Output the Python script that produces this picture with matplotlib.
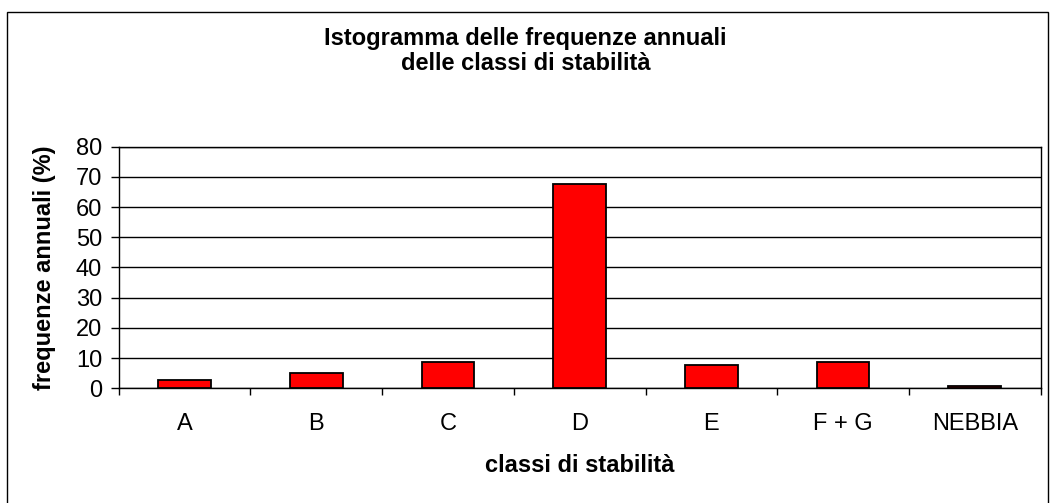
import matplotlib
matplotlib.use("Agg")
import matplotlib.pyplot as plt
from matplotlib.patches import Rectangle
import numpy as np

plt.rcParams['font.family'] = ['Liberation Sans', 'DejaVu Sans']

categories = ["A", "B", "C", "D", "E", "F + G", "NEBBIA"]
values = [2.6, 5.0, 8.8, 67.7, 7.6, 8.8, 0.7]
yticks = [0, 10, 20, 30, 40, 50, 60, 70, 80]

W, H = 1051, 503
FS = 17
fig = plt.figure(figsize=(W / 100, H / 100), dpi=100)

# outer chart frame
fig.patches.append(Rectangle((7 / W, -0.02), (1048 - 7) / W, 1.02 - 12 / H,
                             transform=fig.transFigure, fill=False,
                             edgecolor='black', linewidth=1.0))

ax = fig.add_axes([118.7 / W, 1 - 388.3 / H, (1040.7 - 118.7) / W, (388.3 - 146.7) / H])
x = np.arange(len(categories))
ax.bar(x, values, width=0.4, color='#FF0000', edgecolor='black', linewidth=1.3, zorder=3)

ax.set_xlim(-0.5, len(categories) - 0.5)
ax.set_ylim(0, 80)
ax.set_yticks(yticks)
ax.set_yticklabels([str(v) for v in yticks], fontsize=FS)
ax.yaxis.grid(True, color='black', linewidth=1.0, zorder=0)

ax.set_xticks(x)
ax.set_xticklabels(categories, fontsize=FS)
ax.tick_params(axis='x', which='major', length=0, pad=18)
ax.set_xticks(np.arange(len(categories) + 1) - 0.5, minor=True)
ax.tick_params(axis='x', which='minor', length=5, width=1.0, direction='out')
ax.tick_params(axis='y', which='major', length=6, width=1.0, direction='out', pad=6)

for s in ax.spines.values():
    s.set_linewidth(1.0)
    s.set_color('black')

ax.set_ylabel("frequenze annuali (%)", fontsize=FS, fontweight='bold')
ax.yaxis.set_label_coords(-(118.7 - 45) / (1040.7 - 118.7), 0.5)
ax.yaxis.label.set_va('center')
ax.set_xlabel("classi di stabilità", fontsize=FS, fontweight='bold')
ax.xaxis.set_label_coords(0.5, -(466 - 388.3) / (388.3 - 146.7))
ax.xaxis.label.set_va('center')

fig.text(0.5, 1 - 38 / H, "Istogramma delle frequenze annuali",
         ha='center', va='center', fontsize=FS, fontweight='bold')
fig.text(0.5, 1 - 64 / H, "delle classi di stabilità",
         ha='center', va='center', fontsize=FS, fontweight='bold')

fig.savefig("out.png", dpi=100)
